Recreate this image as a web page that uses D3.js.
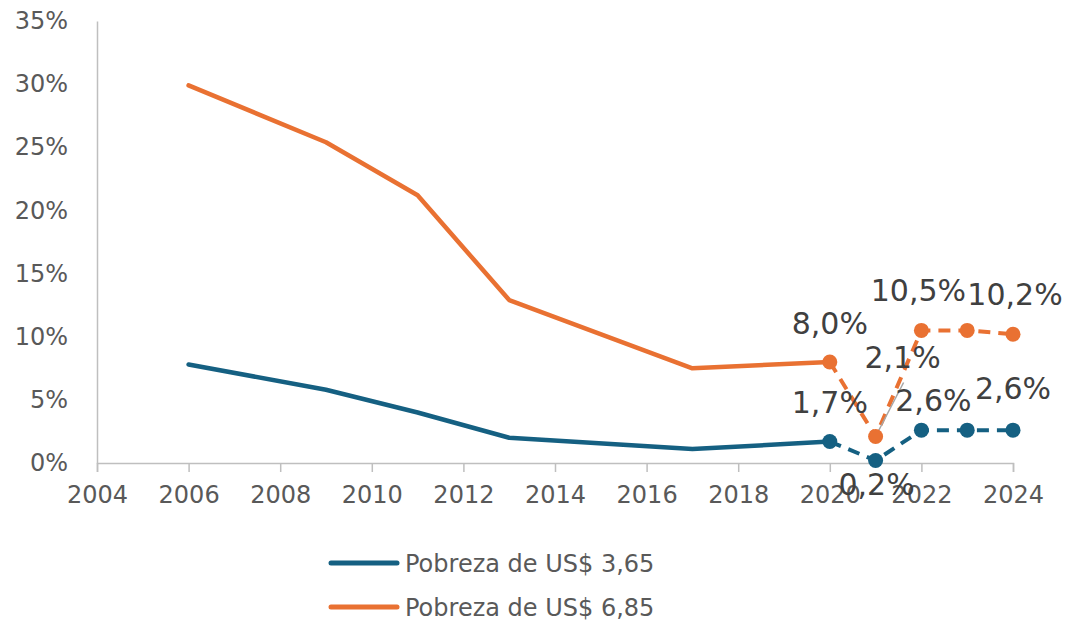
<!DOCTYPE html>
<html><head><meta charset="utf-8">
<script src="https://cdn.jsdelivr.net/npm/d3@7"></script>
<style>body{margin:0;background:#fff;} svg{display:block;}</style>
</head><body>
<svg id="c" width="1066" height="623"></svg>
<script>
// Data
const seriesNames = ["Pobreza de US$ 3,65", "Pobreza de US$ 6,85"];
const yearsSolid = [2006, 2009, 2011, 2013, 2017, 2020];
const blueSolid = [7.8, 5.8, 4.0, 2.0, 1.1, 1.7];
const orangeSolid = [29.9, 25.4, 21.2, 12.9, 7.5, 8.0];
const yearsDashed = [2020, 2021, 2022, 2023, 2024];
const blueDashed = [1.7, 0.2, 2.6, 2.6, 2.6];
const orangeDashed = [8.0, 2.1, 10.5, 10.5, 10.2];
const blueLabels = ["1,7%", "0,2%", "2,6%", "", "2,6%"];
const orangeLabels = ["8,0%", "2,1%", "10,5%", "", "10,2%"];
const xTicks = [2004, 2006, 2008, 2010, 2012, 2014, 2016, 2018, 2020, 2022, 2024];
const yTicks = [0, 5, 10, 15, 20, 25, 30, 35];

const colors = ["#156082", "#e97132"];
const svg = d3.select("#c");
const FONT = "'DejaVu Sans', sans-serif";
const x = d3.scaleLinear().domain([2004, 2024]).range([97, 1013]);
const y = d3.scaleLinear().domain([0, 35]).range([463, 21]);

// axes
const axisColor = "#bfbfbf";
const xAxis = svg.append("g").attr("transform", `translate(0,${y(0)})`)
  .call(d3.axisBottom(x).tickValues(xTicks).tickFormat(d3.format("d")).tickSize(9).tickPadding(14));
xAxis.select(".domain").attr("stroke", axisColor).attr("stroke-width", 1.5);
xAxis.selectAll(".tick line").attr("stroke", axisColor).attr("stroke-width", 1.5);
xAxis.selectAll(".tick text").attr("fill", "#595959").style("font-family", FONT).style("font-size", "24px");

const yAxis = svg.append("g").attr("transform", `translate(${x(2004)},0)`)
  .call(d3.axisLeft(y).tickValues(yTicks).tickFormat(d => d + "%").tickSize(0).tickPadding(29));
yAxis.select(".domain").attr("stroke", axisColor).attr("stroke-width", 1.5);
yAxis.selectAll(".tick text").attr("fill", "#595959").style("font-family", FONT).style("font-size", "24px");

const line = d3.line().x(d => x(d[0])).y(d => y(d[1]));

function drawSeries(vals, dashed, labels, color, idx, offsets) {
  const pts = (dashed ? yearsDashed : yearsSolid).map((yr, i) => [yr, vals[i]]);
  svg.append("path").datum(pts).attr("d", line).attr("fill", "none")
    .attr("stroke", color).attr("stroke-width", dashed ? 4 : 4.5)
    .attr("stroke-linejoin", "round").attr("stroke-linecap", dashed ? "butt" : "round")
    .attr("stroke-dasharray", dashed ? "12,8" : null);
}
drawSeries(orangeSolid, false, null, colors[1]);
drawSeries(blueSolid, false, null, colors[0]);
drawSeries(orangeDashed, true, null, colors[1]);
drawSeries(blueDashed, true, null, colors[0]);

// leader line for 2,1%
svg.append("line").attr("x1", x(2021)).attr("y1", y(2.1))
  .attr("x2", x(2021) + 28).attr("y2", y(2.1) - 54)
  .attr("stroke", "#a6a6a6").attr("stroke-width", 1.5);

// markers
[[blueDashed, colors[0]], [orangeDashed, colors[1]]].forEach(([vals, c]) => {
  svg.append("g").selectAll("circle").data(yearsDashed.map((yr, i) => [yr, vals[i]]))
    .join("circle").attr("cx", d => x(d[0])).attr("cy", d => y(d[1])).attr("r", 7.5).attr("fill", c);
});

// data labels (offsets in px relative to point: dx, dy for baseline)
const orangeOff = [[0, -28], [27, -68], [-3, -29], [0, 0], [2, -29]];
const blueOff = [[0, -29], [1, 35], [12, -19], [0, 0], [0, -31]];
function labels(vals, labs, offs) {
  yearsDashed.forEach((yr, i) => {
    if (!labs[i]) return;
    svg.append("text").attr("x", x(yr) + offs[i][0]).attr("y", y(vals[i]) + offs[i][1])
      .attr("text-anchor", "middle").attr("fill", "#404040")
      .style("font-family", FONT).style("font-size", "30px").text(labs[i]);
  });
}
labels(orangeDashed, orangeLabels, orangeOff);
labels(blueDashed, blueLabels, blueOff);

// legend
const legY = [563, 607];
seriesNames.forEach((n, i) => {
  svg.append("line").attr("x1", 331).attr("x2", 397).attr("y1", legY[i]).attr("y2", legY[i])
    .attr("stroke", colors[i]).attr("stroke-width", 5).attr("stroke-linecap", "round");
  svg.append("text").attr("x", 405).attr("y", legY[i] + 9).attr("fill", "#595959")
    .style("font-family", FONT).style("font-size", "24px").text(n);
});
</script>
</body></html>
